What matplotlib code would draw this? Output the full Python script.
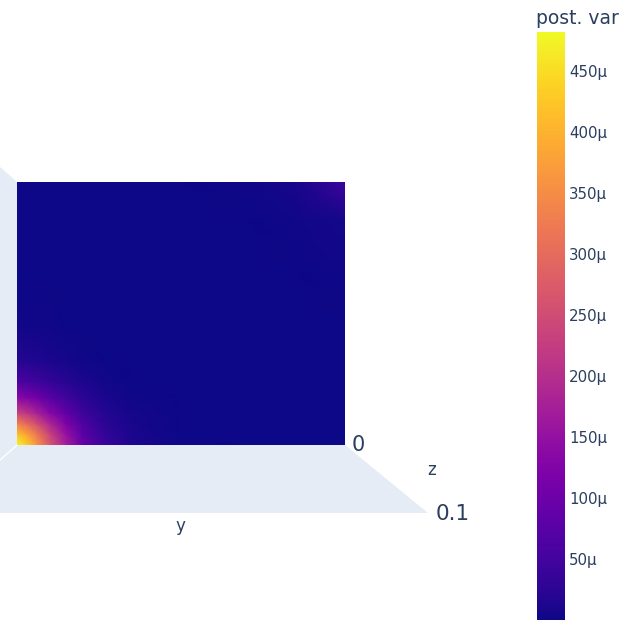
import matplotlib
matplotlib.use("Agg")
import matplotlib.pyplot as plt
import numpy as np
from matplotlib.patches import Polygon

plt.rcParams['font.family'] = ['DejaVu Sans']
FONT_COLOR = "#2a3f5f"
PANE = "#E5ECF6"

# ---- data (posterior variance, in micro-units) ----
# horizontal coordinate of the surface (y axis), fraction of range
y_coords = [0.0, 0.03, 0.06, 0.10, 0.15, 0.20, 0.27, 0.35, 0.50, 0.70, 0.85, 1.0]
# vertical coordinate of the surface (bottom to top), fraction of range
x_coords = [0.0, 0.04, 0.08, 0.12, 0.18, 0.24, 0.32, 0.45, 0.65, 0.85, 1.0]
# post. var values (rows follow x_coords, columns follow y_coords), units of 1e-6
post_var = [
    [480, 432, 365, 269, 173, 91, 36, 12, 2.0, 1.0, 1.0, 1.0],
    [422, 380, 321, 237, 152, 80, 32, 10.6, 1.7, 1.0, 1.0, 1.0],
    [336, 302, 255, 188, 121, 64, 25, 8.4, 1.3, 1.0, 1.0, 1.0],
    [240, 216, 182, 134, 86, 46, 18, 6.0, 1.0, 1.0, 1.0, 1.0],
    [134, 121, 102, 75, 48, 26, 10, 3.4, 1.0, 1.0, 1.0, 1.0],
    [62, 56, 47, 35, 22, 12, 4.7, 1.6, 1.0, 1.0, 1.0, 1.0],
    [19, 17, 14.6, 10.8, 6.9, 3.6, 1.4, 1.0, 1.0, 1.0, 1.0, 1.0],
    [3.8, 3.5, 2.9, 2.2, 1.4, 1.0, 1.0, 1.0, 1.0, 1.0, 1.0, 1.0],
    [1.0, 1.0, 1.0, 1.0, 1.0, 1.0, 1.0, 1.0, 1.0, 1.0, 1.5, 3.0],
    [1.0, 1.0, 1.0, 1.0, 1.0, 1.0, 1.0, 1.0, 1.0, 1.2, 2.5, 7.0],
    [1.0, 1.0, 1.0, 1.0, 1.0, 1.0, 1.0, 1.0, 1.2, 2.0, 8.0, 45.0],
]
cbar_ticks = [50, 100, 150, 200, 250, 300, 350, 400, 450]
cbar_min, cbar_max = 0.0, 482.0
z_tick_labels = ["0", "0.1"]

W = H = 628
fig = plt.figure(figsize=(6.28, 6.28), dpi=100)
fig.patch.set_facecolor("white")

# background axes in pixel coordinates for the 3D scene panes
bg = fig.add_axes([0, 0, 1, 1])
bg.set_xlim(0, W)
bg.set_ylim(H, 0)
bg.axis("off")
bg.add_patch(Polygon([(0, 167), (17, 182), (17, 445), (0, 460)], closed=True,
                     facecolor=PANE, edgecolor="none"))
bg.add_patch(Polygon([(0, 460), (17, 445), (345, 445), (428, 513), (0, 513)], closed=True,
                     facecolor=PANE, edgecolor="none"))
bg.plot([17, 0], [445, 460], color="white", lw=1.0)

# scene labels
bg.text(352, 445, z_tick_labels[0], fontsize=15, color=FONT_COLOR, ha="left", va="center")
bg.text(432, 470, "z", fontsize=12, color=FONT_COLOR, ha="center", va="center")
bg.text(436, 514, z_tick_labels[1], fontsize=15.5, color=FONT_COLOR, ha="left", va="center")
bg.text(180, 526, "y", fontsize=12, color=FONT_COLOR, ha="center", va="center")

# surface
ax = fig.add_axes([17 / W, 1 - 445 / H, 328 / W, 263 / H])
Yg, Xg = np.meshgrid(y_coords, x_coords)
mesh = ax.pcolormesh(Yg, Xg, np.array(post_var), cmap="plasma", shading="gouraud",
                     vmin=cbar_min, vmax=cbar_max)
ax.set_xlim(0, 1)
ax.set_ylim(0, 1)
ax.axis("off")

# colorbar
cax = fig.add_axes([537 / W, 1 - 620 / H, 28 / W, 588 / H])
cb = fig.colorbar(mesh, cax=cax)
cb.outline.set_visible(False)
cb.set_ticks(cbar_ticks)
cb.set_ticklabels([f"{t}\u03bc" for t in cbar_ticks])
cax.tick_params(length=0, pad=3, labelsize=10.8, labelcolor=FONT_COLOR)
cax.set_ylim(cbar_min, cbar_max)
fig.text(536 / W, 1 - 18 / H, "post. var", fontsize=13.5, color=FONT_COLOR,
         ha="left", va="center")

fig.savefig("out.png", dpi=100)
